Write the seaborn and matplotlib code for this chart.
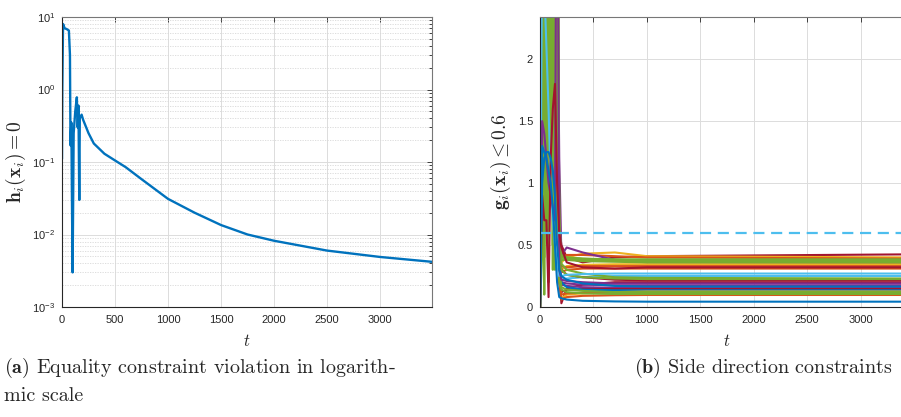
import numpy as np
import pandas as pd
import matplotlib
matplotlib.use('Agg')
import matplotlib.pyplot as plt
import seaborn as sns
from matplotlib.ticker import FuncFormatter, LogLocator, MultipleLocator, NullFormatter

# (a) equality constraint violation
t_h = [0, 3, 10, 25, 45, 65, 75, 80, 88, 95, 100, 110, 125, 140, 148, 155, 163, 168, 185,
       200, 250, 300, 400, 500, 600, 750, 1000, 1250, 1500, 1750, 2000, 2500, 3000, 3490]
h_val = [0.11, 1.0, 8.0, 7.0, 6.8, 6.5, 3.0, 0.17, 0.35, 0.02, 0.003, 0.25, 0.5, 0.78, 0.3,
         0.6, 0.03, 0.4, 0.45, 0.38, 0.25, 0.18, 0.13, 0.105, 0.085, 0.058, 0.031, 0.020,
         0.0135, 0.010, 0.0082, 0.006, 0.0049, 0.0042]

# (b) side direction constraints, one row per agent at these time points
t_g = [0, 20, 40, 60, 80, 100, 120, 140, 160, 180, 200, 250, 400, 700, 1000, 3490]
g_lines = [
    [0, 30, 3, 3, 3, 3, 3, 3, 3, 0.65, 0.50, 0.40, 0.36, 0.40, 0.41, 0.425],
    [0, 30, 3, 3, 3, 3, 3, 3, 3, 0.6, 0.36, 0.40, 0.43, 0.44, 0.41, 0.40],
    [0, 30, 3, 3, 3, 3, 3, 3, 3, 0.6, 0.40, 0.42, 0.42, 0.41, 0.40, 0.39],
    [0, 30, 3, 3, 3, 3, 3, 3, 3, 1.2, 0.42, 0.48, 0.44, 0.38, 0.36, 0.355],
    [0, 30, 3, 3, 3, 3, 3, 3, 3, 0.5, 0.30, 0.33, 0.34, 0.345, 0.345, 0.345],
    [0, 30, 3, 3, 3, 3, 3, 3, 3, 0.5, 0.33, 0.32, 0.33, 0.33, 0.33, 0.33],
    [0, 30, 3, 3, 3, 3, 3, 3, 3, 0.4, 0.28, 0.30, 0.31, 0.31, 0.31, 0.31],
    [0, 30, 3, 3, 3, 3, 3, 3, 3, 0.4, 0.22, 0.23, 0.24, 0.25, 0.25, 0.25],
    [0, 30, 3, 3, 3, 3, 3, 3, 3, 0.5, 0.30, 0.26, 0.24, 0.22, 0.215, 0.215],
    [0, 30, 3, 3, 3, 3, 3, 3, 3, 0.3, 0.03, 0.15, 0.18, 0.20, 0.20, 0.20],
    [0, 30, 3, 3, 3, 3, 3, 3, 3, 0.4, 0.20, 0.19, 0.18, 0.175, 0.175, 0.175],
    [0, 30, 3, 3, 3, 3, 3, 3, 3, 0.3, 0.18, 0.17, 0.16, 0.155, 0.155, 0.155],
    [0, 30, 3, 3, 3, 3, 3, 3, 3, 0.3, 0.12, 0.14, 0.145, 0.145, 0.145, 0.145],
    [0, 30, 3, 3, 3, 3, 3, 3, 3, 0.3, 0.20, 0.16, 0.14, 0.135, 0.135, 0.135],
    [0, 30, 3, 3, 3, 3, 3, 3, 3, 0.3, 0.07, 0.10, 0.11, 0.12, 0.125, 0.125],
    [0, 30, 3, 3, 3, 3, 3, 3, 3, 0.2, 0.10, 0.11, 0.115, 0.115, 0.115, 0.115],
    [0, 30, 3, 3, 3, 3, 3, 3, 3, 0.2, 0.06, 0.08, 0.09, 0.095, 0.097, 0.097],
    [0, 5, 0.4, 5, 0.8, 5, 0.5, 5, 3, 0.7, 0.40, 0.40, 0.39, 0.38, 0.375, 0.37],
    [0, 0.42, 5, 0.6, 5, 1.0, 5, 0.3, 5, 0.6, 0.38, 0.38, 0.37, 0.365, 0.36, 0.36],
    [0, 5, 1.5, 5, 0.2, 5, 1.2, 5, 0.6, 0.6, 0.35, 0.30, 0.27, 0.24, 0.235, 0.23],
    [0, 5, 0.1, 5, 1.5, 5, 0.3, 5, 2.0, 0.2, 0.14, 0.12, 0.11, 0.105, 0.105, 0.105],
    [0, 2.0, 5, 1.8, 5, 0.9, 5, 1.6, 5, 0.5, 0.42, 0.40, 0.39, 0.385, 0.385, 0.385],
    [0, 5, 2.2, 5, 1.0, 5, 2.0, 5, 1.4, 0.4, 0.30, 0.26, 0.24, 0.23, 0.225, 0.225],
    [0, 1.2, 5, 2.4, 5, 1.7, 5, 2.2, 5, 0.45, 0.40, 0.39, 0.38, 0.375, 0.37, 0.37],
    [0, 5, 1.8, 5, 2.5, 5, 1.4, 5, 2.8, 0.3, 0.16, 0.14, 0.13, 0.12, 0.12, 0.12],
    [0, 3, 2.6, 2.1, 1.6, 1.0, 0.7, 0.5, 0.35, 0.25, 0.25, 0.26, 0.265, 0.27, 0.27, 0.27],
    [0, 1.5, 1.4, 1.2, 1.0, 0.9, 0.8, 0.7, 5, 0.3, 0.22, 0.21, 0.20, 0.19, 0.19, 0.19],
    [0, 0.9, 0.7, 0.7, 0.08, 1.2, 1.6, 1.8, 1.0, 0.6, 0.48, 0.36, 0.32, 0.31, 0.32, 0.32],
    [0, 1.0, 1.2, 1.25, 1.25, 1.2, 1.1, 0.9, 0.5, 0.3, 0.25, 0.22, 0.19, 0.17, 0.165, 0.165],
    [0, 1.3, 1.25, 1.2, 1.1, 1.0, 0.8, 0.5, 0.2, 0.08, 0.07, 0.06, 0.05, 0.045, 0.043, 0.043],
]
g_limit = 0.6

# matlab default colours
BLUE, ORANGE, YELLOW, PURPLE = '#0072BD', '#D95319', '#EDB120', '#7E2F8E'
GREEN, CYAN, RED = '#77AC30', '#4DBEEE', '#A2142F'
g_colors = [RED, YELLOW, ORANGE, PURPLE, YELLOW, ORANGE, ORANGE,
            CYAN, RED, RED, PURPLE, PURPLE, RED, BLUE, YELLOW, ORANGE, ORANGE,
            GREEN, GREEN, GREEN, GREEN, GREEN, GREEN, GREEN, GREEN,
            CYAN, PURPLE, RED, BLUE, BLUE]

sns.set_theme(style='white')
plt.rcParams['font.family'] = ['Liberation Sans', 'DejaVu Sans']
plt.rcParams['mathtext.fontset'] = 'custom'
plt.rcParams['mathtext.rm'] = 'Liberation Sans'
plt.rcParams['mathtext.it'] = 'Liberation Sans:italic'
plt.rcParams['mathtext.bf'] = 'Liberation Sans:bold'

fig = plt.figure(figsize=(9.01, 4.17), dpi=100)
ax1 = fig.add_axes([62/901, 110/417, 370/901, 290/417])
ax2 = fig.add_axes([540/901, 110/417, 373/901, 290/417])

# left panel
sns.lineplot(x=t_h, y=h_val, ax=ax1, color=BLUE, lw=1.7)
ax1.set_yscale('log')
ax1.set_ylim(1e-3, 10)
ax1.yaxis.set_major_locator(LogLocator(base=10, numticks=10))
ax1.yaxis.set_minor_locator(LogLocator(base=10, subs=np.arange(2, 10), numticks=10))
ax1.yaxis.set_minor_formatter(NullFormatter())
ax1.yaxis.set_major_formatter(FuncFormatter(
    lambda v, p: r'$\mathregular{10^{%d}}$' % int(round(np.log10(v)))))
ax1.grid(True, which='major', color='#dcdcdc', lw=0.7)
ax1.grid(True, which='minor', axis='y', color='#d8d8d8', lw=0.6, ls=(0, (1.5, 1.5)))

# right panel
names = ['L%02d' % i for i in range(len(g_lines))]
df = pd.DataFrame({
    't': np.tile(t_g, len(g_lines)),
    'g': np.concatenate(g_lines),
    'line': np.repeat(names, len(t_g)),
})
sns.lineplot(data=df, x='t', y='g', hue='line', hue_order=names,
             palette=dict(zip(names, g_colors)), estimator=None, sort=False,
             legend=False, lw=1.5, ax=ax2)
ax2.axhline(g_limit, color=CYAN, lw=1.6, ls=(0, (5, 3)))
ax2.set_ylim(0, 2.34)
ax2.yaxis.set_major_locator(MultipleLocator(0.5))
ax2.yaxis.set_major_formatter(FuncFormatter(lambda v, p: '%g' % v))
ax2.grid(True, which='major', color='#dcdcdc', lw=0.7)

for ax in (ax1, ax2):
    ax.set_xlim(0, 3490)
    ax.xaxis.set_major_locator(MultipleLocator(500))
    ax.tick_params(which='both', direction='in', top=True, right=True,
                   labelsize=8, labelcolor='#262626', color='#262626', width=0.6)
    ax.tick_params(axis='x', pad=6)
    ax.tick_params(axis='y', pad=5)
    ax.tick_params(which='major', length=3.5)
    ax.tick_params(which='minor', length=2)
    for s in ('left', 'bottom'):
        ax.spines[s].set_color('#262626')
        ax.spines[s].set_linewidth(0.8)
    for s in ('top', 'right'):
        ax.spines[s].set_color('#777777')
        ax.spines[s].set_linewidth(0.8)
    ax.set_xlabel(r'$t$', fontsize=12, math_fontfamily='cm')
    ax.xaxis.set_label_coords(0.5, -0.09)

ax1.set_ylabel(r'$\mathbf{h}_i(\mathbf{x}_i) = 0$', fontsize=14, math_fontfamily='cm')
ax1.yaxis.set_label_coords(-0.092, 0.5)
ax2.set_ylabel(r'$\mathbf{g}_i(\mathbf{x}_i) \leq 0.6$', fontsize=14, math_fontfamily='cm')
ax2.yaxis.set_label_coords(-0.072, 0.5)

fig.text(4/901, 1 - 368/417, r'$\mathbf{(a)}$ Equality constraint violation in logarith-',
         family='cmr10', math_fontfamily='cm', fontsize=14.5, va='center')
fig.text(4/901, 1 - 396/417, 'mic scale', family='cmr10', fontsize=14.5, va='center')
fig.text(634/901, 1 - 368/417, r'$\mathbf{(b)}$ Side direction constraints',
         family='cmr10', math_fontfamily='cm', fontsize=14.5, va='center')

fig.savefig('out.png', dpi=100)
